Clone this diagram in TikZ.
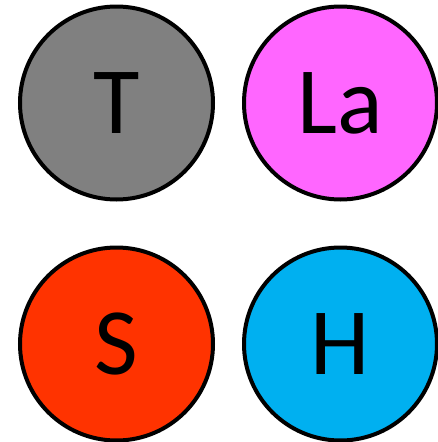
\documentclass[tikz,border=0pt]{standalone}
\usepackage{fontspec}
\setmainfont{Carlito}
\definecolor{cgray}{HTML}{808080}
\definecolor{cmag}{HTML}{FF66FF}
\definecolor{cred}{HTML}{FF3300}
\definecolor{ccyan}{HTML}{00B0F0}
\begin{document}
\begin{tikzpicture}[x=1pt,y=-1pt,
  ball/.style={circle, draw=black, line width=4pt, minimum size=193pt, inner sep=0pt,
    font=\fontsize{95}{95}\selectfont, text=black}]
\useasboundingbox (0,0) rectangle (438,442);
\node[ball, fill=cgray] (t) at (116.5,103) {T};
\node[ball, fill=cmag] (la) at (340.5,103) {La};
\node[ball, fill=cred] (s) at (116.5,344) {S};
\node[ball, fill=ccyan] (h) at (340.5,344) {H};
\end{tikzpicture}
\end{document}
